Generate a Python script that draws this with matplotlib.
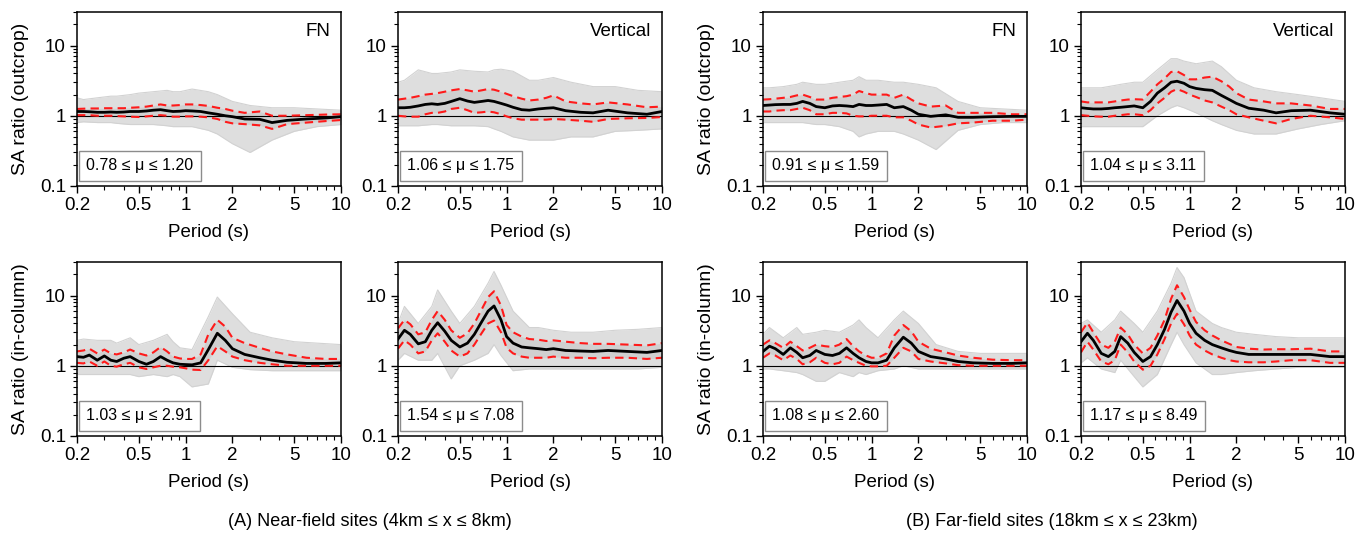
import matplotlib
matplotlib.use("Agg")
import matplotlib.pyplot as plt
from matplotlib.ticker import FixedLocator, NullFormatter, LogLocator

plt.rcParams['font.family'] = ['Liberation Sans', 'DejaVu Sans']

# period grid for mean / +-sigma curves
periods = [0.2, 0.22, 0.24, 0.27, 0.3, 0.33, 0.36, 0.4, 0.44, 0.5, 0.56, 0.62, 0.69, 0.76, 0.83,
           0.92, 1.0, 1.1, 1.25, 1.4, 1.6, 1.8, 2.0, 2.4, 3.0, 3.6, 4.5, 6.0, 8.0, 10.0]
# coarser grid for the envelope of the individual records
env_periods = [0.2, 0.22, 0.27, 0.33, 0.36, 0.44, 0.5, 0.62, 0.76, 0.83, 0.92, 1.1, 1.4, 1.6,
               2.0, 2.6, 3.6, 5.0, 7.0, 10.0]

# (A) near-field, outcrop, FN
a_out_fn_mean = [1.15, 1.15, 1.14, 1.12, 1.12, 1.13, 1.12, 1.13, 1.15, 1.15, 1.17, 1.2, 1.22, 1.18, 1.15,
                 1.16, 1.18, 1.17, 1.15, 1.1, 1.05, 1.0, 0.97, 0.9, 0.89, 0.8, 0.86, 0.9, 0.93, 0.97]
a_out_fn_up = [1.25, 1.26, 1.27, 1.27, 1.28, 1.28, 1.28, 1.28, 1.3, 1.32, 1.35, 1.4, 1.45, 1.4, 1.4,
               1.42, 1.45, 1.45, 1.42, 1.38, 1.3, 1.25, 1.18, 1.1, 1.15, 1.0, 1.0, 1.02, 1.04, 1.05]
a_out_fn_lo = [1.02, 1.02, 1.02, 1.0, 1.0, 1.0, 0.99, 0.98, 0.97, 0.96, 0.98, 1.0, 1.02, 1.0, 0.97,
               0.97, 0.98, 0.98, 0.97, 0.95, 0.9, 0.82, 0.78, 0.76, 0.73, 0.65, 0.76, 0.8, 0.84, 0.87]
a_out_fn_gmax = [1.8, 1.7, 1.8, 1.9, 1.9, 2.0, 2.1, 2.2, 2.3, 2.2, 2.2, 2.4, 2.2, 2.0, 1.6, 1.4, 1.3, 1.3, 1.25, 1.2]
a_out_fn_gmin = [0.8, 0.82, 0.8, 0.8, 0.78, 0.75, 0.75, 0.75, 0.72, 0.7, 0.7, 0.7, 0.62, 0.55, 0.4, 0.3, 0.45, 0.6, 0.7, 0.75]

# (A) near-field, outcrop, vertical
a_out_v_mean = [1.3, 1.3, 1.32, 1.38, 1.45, 1.48, 1.45, 1.5, 1.6, 1.75, 1.62, 1.55, 1.6, 1.65, 1.6,
                1.5, 1.42, 1.32, 1.22, 1.2, 1.25, 1.28, 1.3, 1.18, 1.12, 1.1, 1.2, 1.1, 1.05, 1.15]
a_out_v_up = [1.7, 1.75, 1.8, 1.9, 2.0, 2.05, 2.1, 2.2, 2.3, 2.4, 2.3, 2.2, 2.3, 2.4, 2.35,
              2.2, 2.05, 1.9, 1.75, 1.65, 1.7, 1.8, 1.95, 1.6, 1.5, 1.45, 1.55, 1.45, 1.32, 1.35]
a_out_v_lo = [1.0, 0.98, 0.97, 0.97, 1.05, 1.1, 1.1, 1.15, 1.25, 1.3, 1.2, 1.1, 1.12, 1.15, 1.12,
              1.05, 0.98, 0.92, 0.88, 0.88, 0.88, 0.88, 0.9, 0.88, 0.85, 0.82, 0.9, 0.92, 0.93, 0.96]
a_out_v_gmax = [3.0, 3.2, 4.5, 4.0, 4.0, 4.2, 4.5, 4.3, 4.2, 4.5, 4.6, 4.3, 3.2, 3.2, 3.5, 3.0, 2.6, 2.6, 2.3, 2.2]
a_out_v_gmin = [0.72, 0.72, 0.72, 0.75, 0.75, 0.72, 0.72, 0.72, 0.7, 0.65, 0.6, 0.5, 0.45, 0.45, 0.45, 0.5, 0.5, 0.6, 0.62, 0.65]

# (B) far-field, outcrop, FN
b_out_fn_mean = [1.4, 1.42, 1.44, 1.45, 1.45, 1.5, 1.6, 1.5, 1.35, 1.3, 1.38, 1.4, 1.38, 1.35, 1.45,
                 1.4, 1.4, 1.42, 1.45, 1.3, 1.35, 1.2, 1.05, 0.98, 1.03, 0.95, 0.95, 0.97, 0.98, 0.98]
b_out_fn_up = [1.7, 1.72, 1.75, 1.8, 1.85, 1.95, 2.0, 1.85, 1.7, 1.7, 1.8, 1.85, 1.9, 2.0, 2.25,
               2.1, 2.0, 2.0, 2.0, 1.8, 2.0, 1.7, 1.5, 1.35, 1.4, 1.1, 1.1, 1.1, 1.05, 1.05]
b_out_fn_lo = [1.15, 1.15, 1.18, 1.2, 1.2, 1.25, 1.3, 1.2, 1.05, 1.05, 1.1, 1.1, 1.08, 1.0, 0.98,
               0.98, 1.0, 1.0, 1.0, 0.95, 0.95, 0.85, 0.75, 0.68, 0.72, 0.78, 0.8, 0.85, 0.85, 0.88]
b_out_fn_gmax = [2.5, 2.5, 2.6, 2.8, 3.0, 2.8, 2.8, 3.0, 3.2, 3.6, 3.2, 3.2, 3.0, 3.0, 2.8, 2.5, 1.6, 1.3, 1.25, 1.2]
b_out_fn_gmin = [0.8, 0.8, 0.8, 0.8, 0.8, 0.75, 0.75, 0.7, 0.6, 0.5, 0.55, 0.6, 0.6, 0.55, 0.45, 0.33, 0.62, 0.75, 0.8, 0.8]

# (B) far-field, outcrop, vertical
b_out_v_mean = [1.3, 1.27, 1.25, 1.25, 1.27, 1.3, 1.32, 1.35, 1.38, 1.3, 1.6, 2.1, 2.5, 3.0, 3.1,
                2.9, 2.6, 2.45, 2.35, 2.3, 1.95, 1.7, 1.5, 1.28, 1.2, 1.1, 1.18, 1.2, 1.1, 1.05]
b_out_v_up = [1.6, 1.55, 1.55, 1.55, 1.55, 1.6, 1.65, 1.7, 1.72, 1.7, 2.2, 2.8, 3.4, 4.2, 4.3,
              3.8, 3.3, 3.3, 3.5, 3.6, 3.1, 2.6, 2.1, 1.7, 1.6, 1.5, 1.5, 1.4, 1.25, 1.25]
b_out_v_lo = [1.02, 1.0, 0.98, 0.97, 0.97, 1.0, 1.02, 1.05, 1.05, 1.02, 1.2, 1.5, 1.8, 2.2, 2.4,
              2.2, 2.0, 1.85, 1.65, 1.55, 1.35, 1.2, 1.05, 0.95, 0.85, 0.78, 0.9, 1.0, 0.95, 0.9]
b_out_v_gmax = [2.5, 2.5, 2.5, 2.7, 2.8, 3.0, 3.0, 4.5, 6.5, 6.5, 6.0, 5.5, 6.0, 5.0, 3.2, 2.5, 2.2, 2.0, 1.8, 1.6]
b_out_v_gmin = [0.7, 0.7, 0.7, 0.7, 0.7, 0.7, 0.7, 1.0, 1.3, 1.4, 1.3, 1.1, 0.85, 0.75, 0.62, 0.55, 0.55, 0.65, 0.75, 0.85]

# (A) near-field, in-column, FN
a_col_fn_mean = [1.35, 1.32, 1.42, 1.2, 1.38, 1.2, 1.15, 1.28, 1.35, 1.15, 1.05, 1.15, 1.35, 1.2, 1.1,
                 1.05, 1.04, 1.03, 1.1, 1.7, 2.9, 2.3, 1.75, 1.45, 1.3, 1.2, 1.12, 1.08, 1.08, 1.1]
a_col_fn_up = [1.6, 1.65, 1.75, 1.5, 1.7, 1.5, 1.45, 1.55, 1.7, 1.5, 1.4, 1.55, 1.85, 1.6, 1.35,
               1.27, 1.25, 1.25, 1.45, 2.8, 4.5, 3.6, 2.5, 2.1, 1.8, 1.6, 1.45, 1.3, 1.25, 1.25]
a_col_fn_lo = [1.1, 1.08, 1.15, 1.0, 1.15, 1.0, 0.97, 1.05, 1.1, 0.95, 0.9, 0.95, 1.0, 1.0, 0.97,
               0.95, 0.92, 0.88, 0.87, 1.2, 1.9, 1.6, 1.35, 1.2, 1.1, 1.05, 1.0, 1.0, 1.0, 1.0]
a_col_fn_gmax = [2.3, 2.4, 2.3, 2.3, 2.1, 2.5, 2.0, 2.3, 2.8, 2.2, 1.8, 1.7, 5.0, 9.5, 5.5, 3.0, 2.5, 2.2, 2.1, 2.0]
a_col_fn_gmin = [0.75, 0.75, 0.75, 0.75, 0.75, 0.75, 0.7, 0.75, 0.7, 0.75, 0.7, 0.5, 0.55, 1.2, 0.95, 0.88, 0.85, 0.85, 0.85, 0.85]

# (A) near-field, in-column, vertical
a_col_v_mean = [2.4, 3.2, 2.8, 2.05, 2.2, 3.2, 4.1, 3.1, 2.3, 1.85, 2.1, 2.8, 4.2, 6.0, 7.1,
                4.5, 2.6, 2.1, 1.85, 1.8, 1.75, 1.7, 1.75, 1.65, 1.62, 1.6, 1.65, 1.6, 1.55, 1.65]
a_col_v_up = [3.4, 4.5, 3.9, 2.8, 3.0, 4.5, 6.0, 4.5, 3.2, 2.5, 2.9, 4.0, 6.3, 9.5, 11.5,
              7.2, 3.8, 3.0, 2.6, 2.4, 2.35, 2.25, 2.3, 2.2, 2.1, 2.05, 2.05, 2.0, 1.95, 2.1]
a_col_v_lo = [1.75, 2.3, 2.0, 1.5, 1.6, 2.3, 2.9, 2.2, 1.65, 1.35, 1.5, 2.0, 2.9, 4.0, 4.4,
              3.0, 1.8, 1.5, 1.35, 1.3, 1.3, 1.3, 1.35, 1.3, 1.3, 1.28, 1.3, 1.3, 1.25, 1.3]
a_col_v_gmax = [4.0, 7.0, 4.0, 7.0, 12.0, 6.0, 4.0, 7.0, 15.0, 22.0, 14.0, 6.0, 3.5, 3.5, 3.2, 3.0, 3.0, 3.2, 3.3, 3.5]
a_col_v_gmin = [1.2, 1.5, 1.2, 1.2, 1.5, 0.65, 1.0, 1.2, 1.5, 2.0, 1.4, 0.85, 0.9, 0.9, 0.9, 0.9, 0.9, 0.9, 0.9, 0.95]

# (B) far-field, in-column, FN
b_col_fn_mean = [1.6, 1.9, 1.75, 1.45, 1.8, 1.55, 1.3, 1.4, 1.65, 1.45, 1.4, 1.5, 1.8, 1.5, 1.3,
                 1.15, 1.1, 1.1, 1.2, 1.8, 2.55, 2.1, 1.6, 1.35, 1.25, 1.15, 1.1, 1.08, 1.08, 1.1]
b_col_fn_up = [2.0, 2.3, 2.1, 1.8, 2.2, 1.9, 1.65, 1.8, 2.0, 1.9, 1.85, 2.0, 2.4, 1.9, 1.6,
               1.4, 1.3, 1.3, 1.5, 2.7, 3.8, 3.1, 2.2, 1.75, 1.55, 1.4, 1.3, 1.22, 1.2, 1.2]
b_col_fn_lo = [1.3, 1.5, 1.4, 1.2, 1.4, 1.25, 1.05, 1.12, 1.3, 1.1, 1.05, 1.1, 1.35, 1.2, 1.1,
               1.0, 0.98, 0.98, 1.0, 1.3, 1.8, 1.6, 1.25, 1.15, 1.08, 1.02, 1.0, 1.0, 1.0, 1.0]
b_col_fn_gmax = [2.8, 3.5, 2.5, 3.5, 2.8, 3.0, 3.2, 3.0, 3.8, 4.5, 3.5, 2.5, 4.5, 6.0, 4.0, 2.0, 1.6, 1.5, 1.5, 1.5]
b_col_fn_gmin = [0.9, 0.9, 0.85, 0.8, 0.75, 0.6, 0.6, 0.8, 0.7, 0.8, 0.75, 0.85, 0.9, 1.0, 0.9, 0.9, 0.9, 0.9, 0.9, 0.9]

# (B) far-field, in-column, vertical
b_col_v_mean = [2.2, 2.9, 2.3, 1.5, 1.35, 1.6, 2.6, 2.1, 1.55, 1.15, 1.35, 2.0, 3.3, 5.8, 8.5,
                6.0, 4.0, 2.9, 2.3, 2.0, 1.8, 1.65, 1.55, 1.45, 1.45, 1.45, 1.45, 1.45, 1.35, 1.35]
b_col_v_up = [3.0, 4.1, 3.0, 2.0, 1.8, 2.2, 3.5, 2.8, 2.0, 1.5, 1.8, 2.7, 4.5, 9.0, 14.0,
              9.5, 6.3, 4.2, 3.2, 2.7, 2.3, 2.05, 1.85, 1.75, 1.7, 1.72, 1.72, 1.75, 1.6, 1.6]
b_col_v_lo = [1.55, 2.2, 1.7, 1.15, 1.05, 1.2, 2.0, 1.55, 1.15, 0.88, 1.0, 1.45, 2.4, 4.0, 5.5,
              3.9, 2.7, 2.0, 1.65, 1.45, 1.3, 1.2, 1.15, 1.12, 1.12, 1.15, 1.2, 1.2, 1.1, 1.1]
b_col_v_gmax = [4.0, 4.5, 3.0, 4.5, 6.0, 4.0, 3.0, 6.0, 15.0, 25.0, 18.0, 6.0, 4.0, 3.5, 3.0, 2.8, 2.6, 2.5, 2.5, 2.5]
b_col_v_gmin = [1.1, 1.3, 0.9, 0.8, 1.2, 0.7, 0.5, 0.75, 2.0, 3.0, 2.0, 1.1, 0.75, 0.75, 0.8, 0.85, 0.9, 0.95, 0.95, 0.95]

mu_labels = [["0.78 \u2264 \u03bc \u2264 1.20", "1.06 \u2264 \u03bc \u2264 1.75",
              "0.91 \u2264 \u03bc \u2264 1.59", "1.04 \u2264 \u03bc \u2264 3.11"],
             ["1.03 \u2264 \u03bc \u2264 2.91", "1.54 \u2264 \u03bc \u2264 7.08",
              "1.08 \u2264 \u03bc \u2264 2.60", "1.17 \u2264 \u03bc \u2264 8.49"]]
comp_labels = ["FN", "Vertical", "FN", "Vertical"]
row_ylabels = ["SA ratio (outcrop)", "SA ratio (in-column)"]

panels = [
    [(a_out_fn_mean, a_out_fn_up, a_out_fn_lo, a_out_fn_gmax, a_out_fn_gmin),
     (a_out_v_mean, a_out_v_up, a_out_v_lo, a_out_v_gmax, a_out_v_gmin),
     (b_out_fn_mean, b_out_fn_up, b_out_fn_lo, b_out_fn_gmax, b_out_fn_gmin),
     (b_out_v_mean, b_out_v_up, b_out_v_lo, b_out_v_gmax, b_out_v_gmin)],
    [(a_col_fn_mean, a_col_fn_up, a_col_fn_lo, a_col_fn_gmax, a_col_fn_gmin),
     (a_col_v_mean, a_col_v_up, a_col_v_lo, a_col_v_gmax, a_col_v_gmin),
     (b_col_fn_mean, b_col_fn_up, b_col_fn_lo, b_col_fn_gmax, b_col_fn_gmin),
     (b_col_v_mean, b_col_v_up, b_col_v_lo, b_col_v_gmax, b_col_v_gmin)],
]

W, H = 1368, 539
fig = plt.figure(figsize=(W / 100, H / 100), dpi=100)

lefts = [77, 398, 763, 1081]
tops = [12, 262]
aw, ah = 264, 174

for r in range(2):
    for c in range(4):
        mean, up, lo, gmax, gmin = panels[r][c]
        ax = fig.add_axes([lefts[c] / W, 1 - (tops[r] + ah) / H, aw / W, ah / H])
        # records: light outer envelope, denser core
        ax.fill_between(env_periods, gmin, gmax, color='#dedede', lw=0)
        ax.plot(env_periods, gmax, color='#d2d2d2', lw=0.8)
        ax.plot(env_periods, gmin, color='#d2d2d2', lw=0.8)
        ax.fill_between(periods, lo, up, color='#d0d0d0', lw=0)
        ax.axhline(1, color='black', lw=0.8)
        ax.plot(periods, up, color='#ff1a1a', lw=1.5, ls=(0, (4, 2.5)))
        ax.plot(periods, lo, color='#ff1a1a', lw=1.5, ls=(0, (4, 2.5)))
        ax.plot(periods, mean, color='black', lw=2)

        ax.set_xscale('log')
        ax.set_yscale('log')
        ax.set_xlim(0.2, 10)
        ax.set_ylim(0.1, 30)
        ax.xaxis.set_major_locator(FixedLocator([0.2, 0.5, 1, 2, 5, 10]))
        ax.set_xticklabels(["0.2", "0.5", "1", "2", "5", "10"])
        ax.xaxis.set_minor_locator(LogLocator(base=10, subs=range(2, 10)))
        ax.xaxis.set_minor_formatter(NullFormatter())
        ax.yaxis.set_major_locator(FixedLocator([0.1, 1, 10]))
        ax.set_yticklabels(["0.1", "1", "10"])
        ax.yaxis.set_minor_locator(LogLocator(base=10, subs=range(2, 10)))
        ax.yaxis.set_minor_formatter(NullFormatter())
        ax.tick_params(which='major', direction='out', length=5, width=1, labelsize=13.5, pad=3)
        ax.tick_params(which='minor', direction='out', length=3, width=0.8)
        for s in ax.spines.values():
            s.set_linewidth(1.1)

        ax.set_xlabel("Period (s)", fontsize=13.5, labelpad=7)
        if c in (0, 2):
            ax.set_ylabel(row_ylabels[r], fontsize=14, labelpad=8)
        if r == 0:
            ax.text(0.96, 0.89, comp_labels[c], transform=ax.transAxes, fontsize=13.5,
                    ha='right', va='center')
        ax.text(0.035, 0.115, mu_labels[r][c], transform=ax.transAxes, fontsize=11.5,
                ha='left', va='center',
                bbox=dict(boxstyle='square,pad=0.45', fc='white', ec='#8c8c8c', lw=1))

fig.text(370 / W, 1 - 522 / H, "(A) Near-field sites (4km \u2264 x \u2264 8km)", fontsize=13,
         ha='center', va='center')
fig.text(1052 / W, 1 - 522 / H, "(B) Far-field sites (18km \u2264 x \u2264 23km)", fontsize=13,
         ha='center', va='center')

fig.savefig("out.png", dpi=100)
